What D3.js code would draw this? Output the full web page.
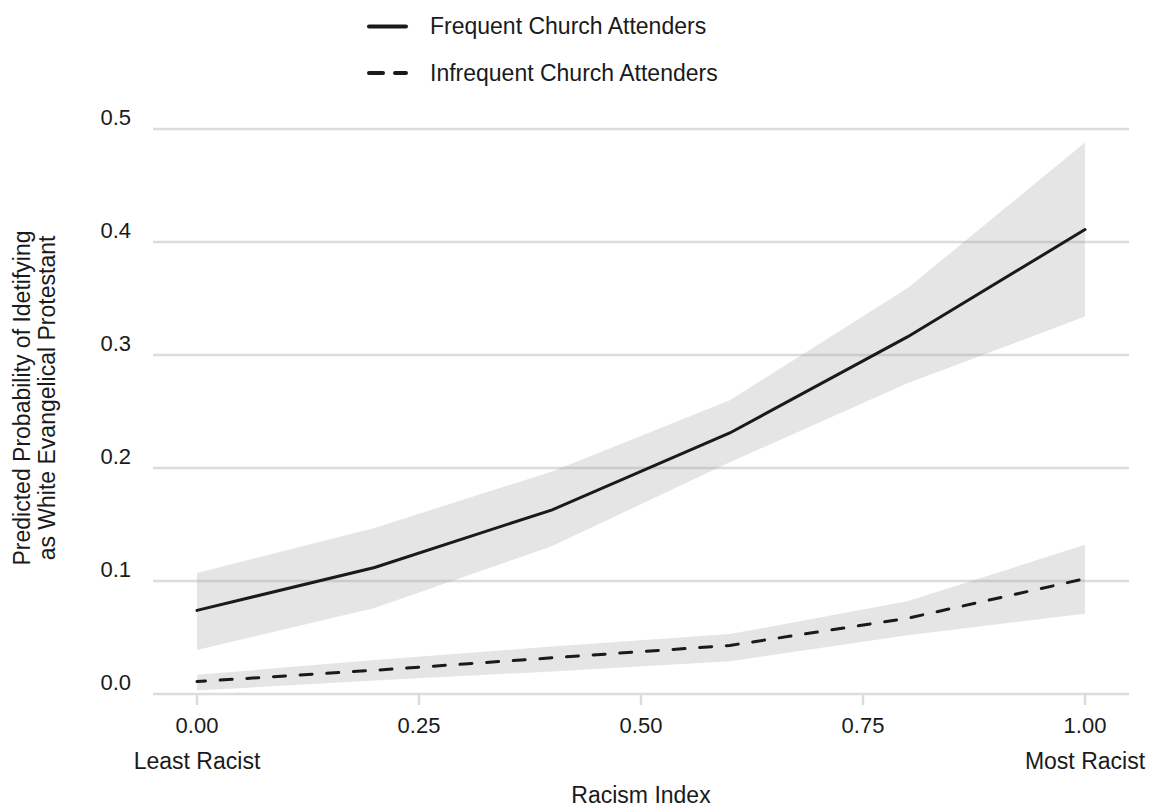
<!DOCTYPE html>
<html>
<head>
<meta charset="utf-8">
<script src="https://cdn.jsdelivr.net/npm/d3@7"></script>
<style>
  body { margin: 0; background: #fff; }
  svg text { font-family: "Liberation Sans", Arial, sans-serif; fill: #1a1a1a; }
</style>
</head>
<body>
<svg id="chart" width="1151" height="808"></svg>
<script>
// racism index values where predictions were made
var racism = [0, 0.2, 0.4, 0.6, 0.8, 1.0];

// frequent church attenders
var freqFit   = [0.074, 0.112, 0.163, 0.231, 0.316, 0.411];
var freqLower = [0.039, 0.076, 0.131, 0.205, 0.275, 0.334];
var freqUpper = [0.107, 0.147, 0.197, 0.260, 0.359, 0.488];

// infrequent church attenders
var infFit   = [0.011, 0.021, 0.032, 0.043, 0.067, 0.102];
var infLower = [0.003, 0.012, 0.020, 0.029, 0.052, 0.071];
var infUpper = [0.017, 0.030, 0.042, 0.053, 0.082, 0.132];

var xTicks = [0, 0.25, 0.5, 0.75, 1.0];
var yTicks = [0, 0.1, 0.2, 0.3, 0.4, 0.5];
var seriesNames = ["Frequent Church Attenders", "Infrequent Church Attenders"];

var svg = d3.select("#chart");

var x = d3.scaleLinear().domain([0, 1]).range([197, 1085]);
var y = d3.scaleLinear().domain([0, 0.5]).range([694, 129]);

var panelLeft = 153, panelRight = 1129;

function makeRows(fit, lo, hi) {
    return racism.map(function(r, i) {
        return { x: r, fit: fit[i], lo: lo[i], hi: hi[i] };
    });
}
var freqRows = makeRows(freqFit, freqLower, freqUpper);
var infRows = makeRows(infFit, infLower, infUpper);

// grid lines
svg.append("g").selectAll("line")
    .data(yTicks)
    .enter().append("line")
    .attr("x1", panelLeft)
    .attr("x2", panelRight)
    .attr("y1", d => y(d))
    .attr("y2", d => y(d))
    .attr("stroke", "#dcdcdc")
    .attr("stroke-width", 2.5);

// x tick marks
svg.append("g").selectAll("line")
    .data(xTicks)
    .enter().append("line")
    .attr("x1", d => x(d))
    .attr("x2", d => x(d))
    .attr("y1", y(0))
    .attr("y2", y(0) + 11)
    .attr("stroke", "#dcdcdc")
    .attr("stroke-width", 2.5);

// ribbons
var band = d3.area()
    .x(d => x(d.x))
    .y0(d => y(d.lo))
    .y1(d => y(d.hi));

[freqRows, infRows].forEach(function(rows) {
    svg.append("path")
        .datum(rows)
        .attr("d", band)
        .attr("fill", "#999999")
        .attr("fill-opacity", 0.25);
});

// fitted lines
var fitLine = d3.line()
    .x(d => x(d.x))
    .y(d => y(d.fit));

svg.append("path")
    .datum(freqRows)
    .attr("d", fitLine)
    .attr("fill", "none")
    .attr("stroke", "#1a1a1a")
    .attr("stroke-width", 3)
    .attr("stroke-linecap", "round");

svg.append("path")
    .datum(infRows)
    .attr("d", fitLine)
    .attr("fill", "none")
    .attr("stroke", "#1a1a1a")
    .attr("stroke-width", 3)
    .attr("stroke-linecap", "round")
    .attr("stroke-dasharray", "12,14.7")
    .attr("stroke-dashoffset", 3.5);

// y tick labels (sit just above their grid line)
svg.append("g").selectAll("text")
    .data(yTicks)
    .enter().append("text")
    .attr("x", 131)
    .attr("y", d => y(d) - 4)
    .attr("text-anchor", "end")
    .attr("font-size", 22)
    .text(d => d3.format(".1f")(d));

// x tick labels
svg.append("g").selectAll("text")
    .data(xTicks)
    .enter().append("text")
    .attr("x", d => x(d))
    .attr("y", 733)
    .attr("text-anchor", "middle")
    .attr("font-size", 22)
    .text(d => d3.format(".2f")(d));

svg.append("text")
    .attr("x", x(0))
    .attr("y", 769)
    .attr("text-anchor", "middle")
    .attr("font-size", 23)
    .text("Least Racist");

svg.append("text")
    .attr("x", x(1))
    .attr("y", 769)
    .attr("text-anchor", "middle")
    .attr("font-size", 23)
    .text("Most Racist");

// axis titles
svg.append("text")
    .attr("x", (panelLeft + panelRight) / 2)
    .attr("y", 803)
    .attr("text-anchor", "middle")
    .attr("font-size", 23)
    .text("Racism Index");

var yTitle = svg.append("text")
    .attr("transform", "translate(30,398) rotate(-90)")
    .attr("text-anchor", "middle")
    .attr("font-size", 23);
yTitle.append("tspan").attr("x", 0).attr("dy", 0).text("Predicted Probability of Idetifying");
yTitle.append("tspan").attr("x", 0).attr("dy", 25).text("as White Evangelical Protestant");

// legend
var legend = svg.append("g");
seriesNames.forEach(function(name, i) {
    var ly = 26.5 + i * 46.5;
    legend.append("line")
        .attr("x1", 369)
        .attr("x2", 406)
        .attr("y1", ly)
        .attr("y2", ly)
        .attr("stroke", "#1a1a1a")
        .attr("stroke-width", 4)
        .attr("stroke-linecap", "round")
        .attr("stroke-dasharray", i == 1 ? "14,12" : null);
    legend.append("text")
        .attr("x", 430)
        .attr("y", ly + 7.5)
        .attr("font-size", 23)
        .text(name);
});
</script>
</body>
</html>
